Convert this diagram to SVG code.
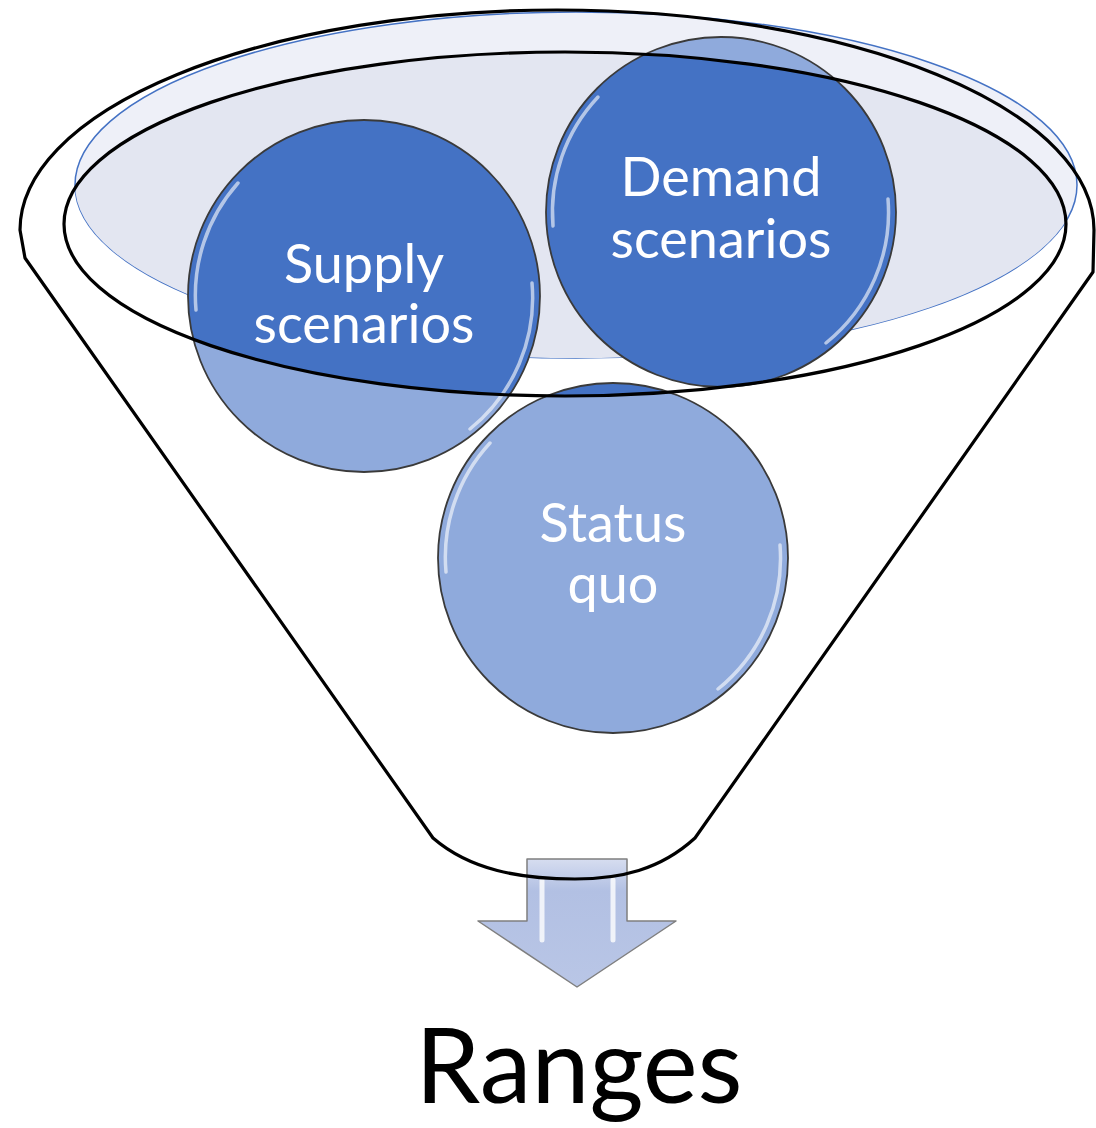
<svg xmlns="http://www.w3.org/2000/svg" width="1096" height="1128" viewBox="0 0 1096 1128">
<style>
.lbl{font-family:Lato,"Open Sans","Liberation Sans",sans-serif;fill:#ffffff;font-size:54px;text-anchor:middle}
.ring{fill:none;stroke:#3a3a3a;stroke-width:1.8}
.gloss{fill:none;stroke:#ffffff;stroke-width:3.5;stroke-linecap:round;opacity:0.6}
.blk{fill:none;stroke:#000;stroke-width:3.2}
</style>
<defs>
<clipPath id="innerClip"><ellipse cx="565" cy="224" rx="501" ry="172"/></clipPath>
<clipPath id="blueClip"><ellipse cx="576" cy="185" rx="501" ry="173"/></clipPath>
<linearGradient id="arrowGrad" x1="0" y1="0" x2="0" y2="1">
<stop offset="0" stop-color="#D6DDF0"/>
<stop offset="0.25" stop-color="#B2C0E3"/>
<stop offset="1" stop-color="#B9C6E6"/>
</linearGradient>
</defs>
<rect width="1096" height="1128" fill="#ffffff"/>
<g id="rim">
<ellipse cx="576" cy="185" rx="501" ry="173" fill="#EEF0F8" stroke="#4472C4" stroke-width="1.5"/>
<ellipse cx="565" cy="224" rx="501" ry="172" fill="#E3E6F1" clip-path="url(#blueClip)"/>
</g>
<g id="supply">
<circle cx="364" cy="296" r="176" fill="#8FAADC"/>
<circle cx="364" cy="296" r="176" fill="#4472C4" clip-path="url(#innerClip)"/>
<circle cx="364" cy="296" r="176" class="ring"/>
<path class="gloss" d="M196,310 A169,169 0 0 1 238,183"/>
<path class="gloss" d="M532,283 A169,169 0 0 1 470,429"/>
<text class="lbl" x="364" y="283">Supply</text>
<text class="lbl" x="364" y="343">scenarios</text>
</g>
<g id="demand">
<circle cx="721" cy="212" r="175" fill="#8FAADC"/>
<circle cx="721" cy="212" r="175" fill="#4472C4" clip-path="url(#innerClip)"/>
<circle cx="721" cy="212" r="175" class="ring"/>
<path class="gloss" d="M553,226 A168,168 0 0 1 598,97"/>
<path class="gloss" d="M888,199 A168,168 0 0 1 826,343"/>
<text class="lbl" x="721" y="196">Demand</text>
<text class="lbl" x="721" y="258">scenarios</text>
</g>
<g id="status">
<circle cx="613" cy="558" r="175" fill="#8FAADC"/>
<circle cx="613" cy="558" r="175" fill="#4472C4" clip-path="url(#innerClip)"/>
<circle cx="613" cy="558" r="175" class="ring"/>
<path class="gloss" d="M446,572 A168,168 0 0 1 490,443"/>
<path class="gloss" d="M780,545 A168,168 0 0 1 718,689"/>
<text class="lbl" x="613" y="542">Status</text>
<text class="lbl" x="613" y="603">quo</text>
</g>
<g id="arrow">
<path d="M527,859 L627,859 L627,921 L676,921 L577,987 L478,921 L527,921 Z" fill="url(#arrowGrad)" stroke="#7F7F7F" stroke-width="1.5" stroke-linejoin="round"/>
<path d="M542,880 L542,940" stroke="#ffffff" stroke-width="5" opacity="0.8" stroke-linecap="round"/>
<path d="M613,880 L613,940" stroke="#ffffff" stroke-width="5" opacity="0.8" stroke-linecap="round"/>
</g>
<g id="connectors">
<path class="blk" d="M20,230 A537,220 0 0 1 1094,230 L1093,272 L695,838 C660,870 620,879 575,879 C520,879 470,870 433,838 L25,258 Z" stroke-linejoin="round"/>
<ellipse class="blk" cx="565" cy="224" rx="501" ry="172"/>
</g>
<text x="579" y="1103" font-family="Lato,'Open Sans','Liberation Sans',sans-serif" font-size="104" fill="#000000" text-anchor="middle">Ranges</text>
</svg>
